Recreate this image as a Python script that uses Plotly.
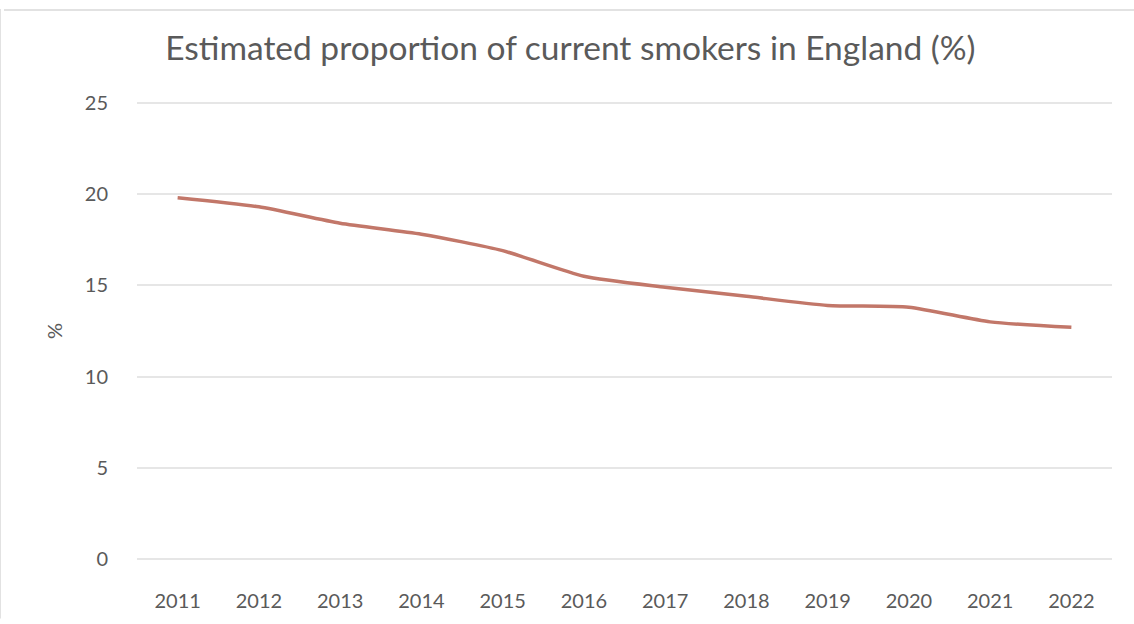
import plotly.graph_objects as go

years = ["2011", "2012", "2013", "2014", "2015", "2016", "2017", "2018", "2019", "2020", "2021", "2022"]
smokers_pct = [19.8, 19.3, 18.4, 17.8, 16.9, 15.5, 14.9, 14.4, 13.9, 13.8, 13.0, 12.7]
y_ticks = [0, 5, 10, 15, 20, 25]

FONT = "Lato, 'Open Sans', sans-serif"
TXT = "#5a5a5a"

fig = go.Figure()
fig.add_trace(go.Scatter(
    x=years, y=smokers_pct, mode="lines",
    line=dict(color="#c27769", width=3.5, shape="spline", smoothing=0.6),
    showlegend=False,
))

fig.update_layout(
    width=1134, height=624,
    margin=dict(l=137, r=22, t=100, b=57),
    paper_bgcolor="white", plot_bgcolor="white",
    font=dict(family=FONT, color=TXT),
    title=dict(text="Estimated proportion of current smokers in England (%)",
               x=0.503, xanchor="center", y=0.923, yanchor="middle",
               font=dict(size=33.5, color=TXT, family=FONT)),
    xaxis=dict(
        type="category", range=[-0.5, 11.5], showgrid=False, zeroline=False, showline=False,
        ticks="outside", ticklen=21, tickcolor="rgba(0,0,0,0)",
        tickfont=dict(size=20, color=TXT, family=FONT),
    ),
    yaxis=dict(
        range=[-0.15, 25.15], tickvals=y_ticks, ticktext=[str(v) for v in y_ticks],
        showgrid=True, gridcolor="#e6e6e6", gridwidth=2,
        zeroline=False, showline=False,
        ticks="outside", ticklen=24, tickcolor="rgba(0,0,0,0)",
        tickfont=dict(size=20, color=TXT, family=FONT),
        title=dict(text="%", font=dict(size=20, color=TXT, family=FONT), standoff=16),
    ),
    shapes=[
        dict(type="line", xref="paper", yref="paper", x0=-137/975, x1=-137/975,
             y0=-57/467, y1=1 + 92/467, line=dict(color="#e2e2e2", width=2)),
        dict(type="line", xref="paper", yref="paper", x0=-133/975, x1=1 + 22/975,
             y0=1 + 91/467, y1=1 + 91/467, line=dict(color="#e2e2e2", width=2)),
    ],
)

fig.write_html("out.html")
